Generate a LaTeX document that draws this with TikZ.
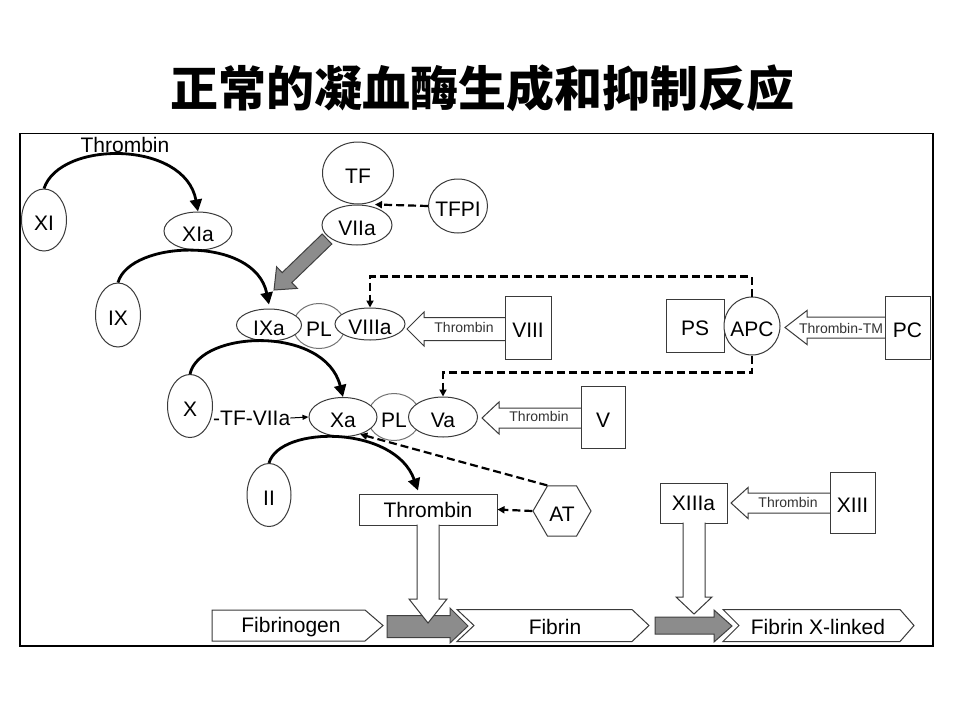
\documentclass[tikz,border=0pt]{standalone}
\usepackage{fontspec}
\setmainfont{Liberation Sans}
\newfontfamily\cjk{Noto Sans CJK SC}
\usetikzlibrary{shapes.geometric,arrows.meta,calc}
\definecolor{edge}{HTML}{3A3A3A}
\definecolor{grayfill}{HTML}{8C8C8C}
\newcommand\zw[1]{\makebox[0pt]{#1}}
\newcommand\hollowarr[6]{\draw[hol] (#4,{#2-#5}) -- (#3,{#2-#5}) -- (#3,{#2-#6}) -- (#1,#2) -- (#3,{#2+#6}) -- (#3,{#2+#5}) -- (#4,{#2+#5});}
\begin{document}
\begin{tikzpicture}[x=1pt,y=-1pt,
  big/.style={font=\fontsize{21}{24}\selectfont},
  small/.style={font=\fontsize{14}{16}\selectfont, text=black!80},
  low/.style={text height=20.5pt, text depth=0pt},
  ell/.style={ellipse, draw=edge, line width=1pt, fill=white, inner sep=0pt, big, low},
  box/.style={rectangle, draw=edge, line width=1pt, fill=white, inner sep=0pt, big},
  hol/.style={draw=edge, line width=1pt, fill=white, line join=miter},
  grayarr/.style={draw=black!75, line width=1pt, fill=grayfill},
  curv/.style={line width=2.8pt, -{Triangle[length=12pt,width=12pt]}},
  dsh/.style={line width=2.2pt, dash pattern=on 8pt off 4pt},
  dtip/.style={-{Triangle[length=7pt,width=7pt]}}]
\useasboundingbox (0,0) rectangle (960,720);
\fill[white] (0,0) rectangle (960,720);
% title
\node (title) at (482,88) {\cjk\bfseries\fontsize{48}{52}\selectfont 正常的凝血酶生成和抑制反应};
% frame
\draw[line width=1.3pt] (20,133.5) rectangle (933,646);

% hollow arrows (drawn before boxes)
\hollowarr{407}{329}{424}{505}{11.5}{17}
\hollowarr{785}{327.5}{807}{885}{10.5}{17}
\hollowarr{482}{418}{499}{581}{10}{16}
\hollowarr{731}{503}{748}{830}{10}{15.5}
\node[small] (thr1) at (464,327) {Thrombin};
\node[small] (thr2) at (841,328) {Thrombin-TM};
\node[small] (thr3) at (539,416) {Thrombin};
\node[small] (thr4) at (788,502) {Thrombin};

% nodes
\node[big] (thtop) at (125,145) {Thrombin};
\node[ell, minimum width=45pt, minimum height=62pt] (XI) at (44,220) {\zw{XI}};
\node[ell, minimum width=68pt, minimum height=38pt] (XIa) at (198,231) {\zw{XIa}};
\node[ell, minimum width=45pt, minimum height=64pt] (IX) at (118,315) {\zw{IX}};
\node[ell, minimum width=71pt, minimum height=62pt] (TF) at (358,173) {\zw{TF}};
\node[ell, minimum width=70pt, minimum height=40pt] (VIIa) at (357,225) {\zw{VIIa}};
\node[ell, minimum width=59pt, minimum height=54pt] (TFPI) at (458,206) {\zw{TFPI}};
\node[ell, draw=black!55, minimum width=52pt, minimum height=45pt] (PLa) at (319,326) {\zw{PL}};
\node[ell, minimum width=65pt, minimum height=32pt] (IXa) at (269,325) {\zw{IXa}};
\node[ell, minimum width=70pt, minimum height=32pt] (VIIIa) at (370,324) {\zw{VIIIa}};
\node[box, low, minimum width=46pt, minimum height=63pt] (VIII) at (528,327.5) {VIII};
\node[box, low, minimum width=58pt, minimum height=53pt] (PS) at (695,325.5) {PS};
\node[ell, minimum width=56pt, minimum height=58pt] (APC) at (752,326) {\zw{APC}};
\node[box, low, minimum width=45pt, minimum height=63pt] (PC) at (907.5,327.5) {PC};
\node[ell, minimum width=45pt, minimum height=63pt] (X) at (190,406) {\zw{X}};
\node[ell, draw=black!55, minimum width=53pt, minimum height=47pt] (PLb) at (394,417) {\zw{PL}};
\node[ell, minimum width=68pt, minimum height=39pt] (Xa) at (343,417) {\zw{Xa}};
\node[ell, minimum width=69pt, minimum height=40pt] (Va) at (443,417) {\zw{Va}};
\node[box, low, minimum width=44pt, minimum height=62pt] (V) at (603,417) {V};
\node[ell, minimum width=44pt, minimum height=63pt] (II) at (269,495) {\zw{II}};
\node[box, minimum width=138pt, minimum height=31pt] (thr) at (428,509.5) {Thrombin};
\node[regular polygon, regular polygon sides=6, draw=edge, line width=1pt, fill=white, inner sep=0pt, minimum size=58pt, big, low] (AT) at (562,511) {\zw{AT}};
\node[box, minimum width=67pt, minimum height=40pt] (XIIIa) at (693.5,503) {XIIIa};
\node[box, low, minimum width=45pt, minimum height=61pt] (XIII) at (852.5,502.5) {XIII};

% TF-VIIa
\node[big, anchor=west, inner sep=0pt] (tfv) at (213,418) {-TF-VIIa};
\draw[line width=1pt, -{Triangle[length=6pt,width=5pt]}] (tfv.east) -- (Xa.west);

% gray thick arrow VIIa -> IXa
\draw[grayarr] (322.2,234) -- (282.2,272.6) -- (276.6,266.8) -- (274,290) -- (297.4,288.4) -- (291.8,282.6) -- (331.8,244) -- cycle;

% curved arrows
\draw[curv] (XI.north) .. controls (60,140) and (185,140) .. (XIa.north);
\draw[curv] (IX.north) .. controls (130,240) and (255,235) .. ([yshift=4pt]IXa.north);
\draw[curv] (X.north) .. controls (200,330) and (325,325) .. (Xa.north);
\draw[curv] (II.north) .. controls (280,425) and (395,425) .. ([xshift=-10pt,yshift=3pt]thr.north);

% dashed connectors
\draw[dsh, dtip] (TFPI.west) -- ($(TF.south)+(17,0)$);
\draw[dsh, dtip] (APC.north) -- ++(0,-20) -| (VIIIa.north);
\draw[dsh, dtip] (APC.south) -- ++(0,17) -| (Va.north);
\draw[dsh, dtip] (AT.120) -- (Xa.-45);
\draw[dsh, dtip] (AT.west) -- (thr.east);

% bottom chevrons
\draw[hol] (212,610) -- (365,610) -- (383,625.5) -- (365,641) -- (212,641) -- cycle;
\draw[hol] (457,609.5) -- (632,609.5) -- (649,625.5) -- (632,641.5) -- (457,641.5) -- (474,625.5) -- cycle;
\draw[hol] (723,609.5) -- (900,609.5) -- (914,625.5) -- (900,641.5) -- (723,641.5) -- (739,625.5) -- cycle;
\node[big] (fbg) at (291,627) {Fibrinogen};
\node[big] (fbn) at (555,627) {Fibrin};
\node[big] (fbx) at (818,627) {Fibrin X-linked};

% gray arrows
\draw[grayarr] (387,615.5) -- (450,615.5) -- (450,608) -- (468,626) -- (450,643) -- (450,637.5) -- (387,637.5) -- cycle;
\draw[grayarr] (655,617) -- (714,617) -- (714,610) -- (732,626) -- (714,642) -- (714,634) -- (655,634) -- cycle;

% hollow stems
\draw[hol] ([xshift=-11pt,yshift=1pt]thr.south) -- (417,599) -- (409,599) -- (428,623) -- (447,599) -- (439,599) -- ([xshift=11pt,yshift=1pt]thr.south);
\draw[hol] ([xshift=-10.5pt,yshift=1pt]XIIIa.south) -- (683,597) -- (676,597) -- (694,614) -- (712,597) -- (705,597) -- ([xshift=11.5pt,yshift=1pt]XIIIa.south);
\end{tikzpicture}
\end{document}
